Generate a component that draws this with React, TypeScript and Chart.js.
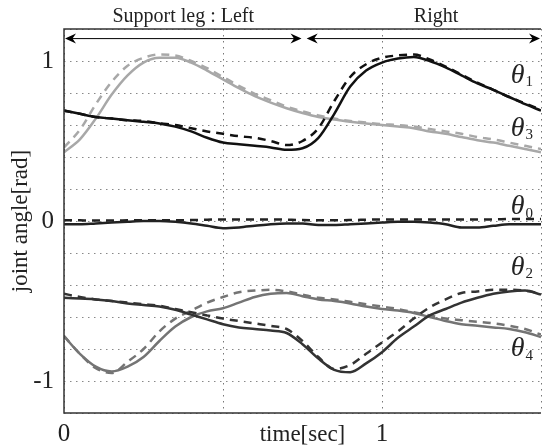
import React, { useEffect, useRef } from "react";
import { Chart, registerables } from "chart.js";

Chart.register(...registerables);

const TIME = [0, 0.05, 0.1, 0.15, 0.2, 0.25, 0.3, 0.35, 0.4, 0.45, 0.5, 0.55, 0.6, 0.65, 0.7, 0.75, 0.8, 0.85, 0.9, 0.95, 1.0, 1.05, 1.1, 1.15, 1.2, 1.25, 1.3, 1.35, 1.4, 1.45, 1.5];

const THETA1 = [0.69, 0.67, 0.65, 0.64, 0.63, 0.62, 0.61, 0.59, 0.56, 0.52, 0.49, 0.48, 0.47, 0.46, 0.445, 0.455, 0.52, 0.67, 0.84, 0.94, 0.99, 1.015, 1.025, 1.0, 0.96, 0.91, 0.86, 0.82, 0.775, 0.73, 0.69];
const THETA1_REF = [0.69, 0.67, 0.65, 0.64, 0.63, 0.625, 0.61, 0.6, 0.58, 0.56, 0.545, 0.53, 0.52, 0.5, 0.475, 0.5, 0.58, 0.75, 0.9, 0.98, 1.02, 1.035, 1.04, 1.01, 0.965, 0.915, 0.865, 0.82, 0.775, 0.735, 0.695];
const THETA3 = [0.43, 0.51, 0.64, 0.79, 0.91, 0.99, 1.02, 1.02, 0.99, 0.94, 0.885, 0.83, 0.78, 0.74, 0.705, 0.675, 0.65, 0.635, 0.62, 0.61, 0.6, 0.59, 0.58, 0.56, 0.545, 0.525, 0.505, 0.49, 0.47, 0.45, 0.43];
const THETA3_REF = [0.46, 0.57, 0.73, 0.87, 0.97, 1.02, 1.04, 1.035, 1.0, 0.955, 0.9, 0.845, 0.795, 0.755, 0.715, 0.685, 0.66, 0.64, 0.625, 0.615, 0.605, 0.6, 0.59, 0.575, 0.56, 0.545, 0.525, 0.51, 0.49, 0.47, 0.45];
const THETA0 = [-0.02, -0.02, -0.015, -0.01, -0.005, 0.0, 0.0, -0.005, -0.015, -0.03, -0.045, -0.04, -0.03, -0.02, -0.015, -0.015, -0.025, -0.025, -0.02, -0.015, -0.01, -0.005, -0.005, -0.01, -0.02, -0.04, -0.04, -0.03, -0.02, -0.02, -0.02];
const THETA0_REF = [0.005, 0.004, 0.003, 0.003, 0.004, 0.005, 0.005, 0.005, 0.006, 0.008, 0.01, 0.01, 0.01, 0.01, 0.008, 0.006, 0.005, 0.005, 0.006, 0.008, 0.01, 0.01, 0.01, 0.01, 0.01, 0.01, 0.01, 0.01, 0.012, 0.012, 0.012];
const THETA2 = [-0.48, -0.485, -0.49, -0.5, -0.515, -0.525, -0.535, -0.555, -0.585, -0.615, -0.645, -0.665, -0.675, -0.685, -0.7, -0.77, -0.86, -0.93, -0.945, -0.89, -0.82, -0.73, -0.66, -0.59, -0.55, -0.51, -0.48, -0.455, -0.44, -0.435, -0.46];
const THETA2_REF = [-0.455, -0.475, -0.49, -0.5, -0.51, -0.52, -0.53, -0.55, -0.57, -0.59, -0.61, -0.625, -0.64, -0.655, -0.675, -0.75, -0.85, -0.925, -0.9, -0.83, -0.76, -0.69, -0.61, -0.54, -0.49, -0.45, -0.44, -0.43, -0.43, -0.435, -0.455];
const THETA4 = [-0.72, -0.83, -0.91, -0.94, -0.91, -0.85, -0.75, -0.66, -0.6, -0.565, -0.545, -0.51, -0.475, -0.455, -0.45, -0.47, -0.49, -0.5, -0.515, -0.535, -0.55, -0.56, -0.575, -0.6, -0.625, -0.645, -0.655, -0.665, -0.675, -0.695, -0.725];
const THETA4_REF = [-0.72, -0.83, -0.92, -0.95, -0.88, -0.8, -0.69, -0.61, -0.56, -0.51, -0.475, -0.445, -0.435, -0.43, -0.44, -0.46, -0.48, -0.49, -0.505, -0.52, -0.535, -0.55, -0.57, -0.59, -0.61, -0.62, -0.63, -0.64, -0.655, -0.675, -0.71];

const Y_TICK_LABELS = ["-1", "0", "1"];
const X_TICK_LABELS = ["0", "1"];

const PHASE_LABELS = ["Support leg : Left", "Right"];
const PHASE_START = [0, 0.76];
const PHASE_END = [0.75, 1.5];
const PHASE_LABEL_X = [0.375, 1.17];

const THETA_SUBS = ["1", "3", "0", "2", "4"];
const THETA_LABEL_Y = [0.91, 0.58, 0.09, -0.29, -0.8];
const THETA_LABEL_X = 1.405;
const ARROW_Y = 1.14;

const SERIF = '"Liberation Serif", "DejaVu Serif", serif';

function pts(vals: number[]) {
  return vals.map((v, i) => ({ x: TIME[i], y: v }));
}

function arrowHead(ctx: CanvasRenderingContext2D, x: number, y: number, dir: number) {
  ctx.beginPath();
  ctx.moveTo(x, y);
  ctx.lineTo(x - dir * 11, y - 5);
  ctx.lineTo(x - dir * 7.5, y);
  ctx.lineTo(x - dir * 11, y + 5);
  ctx.closePath();
  ctx.fill();
}

const annotPlugin = {
  id: "annot",
  afterDraw(chart: any) {
    const { ctx, chartArea: a, scales } = chart;
    const xs = scales.x;
    const ys = scales.y;
    ctx.save();
    // borders
    ctx.strokeStyle = "#333";
    ctx.lineWidth = 1.5;
    ctx.setLineDash([]);
    ctx.beginPath();
    ctx.moveTo(a.right, a.top);
    ctx.lineTo(a.left, a.top);
    ctx.lineTo(a.left, a.bottom);
    ctx.lineTo(a.right, a.bottom);
    ctx.stroke();

    // phase arrows
    const ay = ys.getPixelForValue(ARROW_Y);
    ctx.strokeStyle = "#000";
    ctx.lineWidth = 1;
    for (let i = 0; i < PHASE_LABELS.length; i++) {
      const x0 = xs.getPixelForValue(PHASE_START[i]) + 1;
      const x1 = xs.getPixelForValue(PHASE_END[i]) - 1;
      ctx.fillStyle = "#000";
      ctx.beginPath();
      ctx.moveTo(x0 + 5, ay);
      ctx.lineTo(x1 - 5, ay);
      ctx.stroke();
      arrowHead(ctx, x0, ay, -1);
      arrowHead(ctx, x1, ay, 1);
      ctx.font = `20px ${SERIF}`;
      ctx.fillStyle = "#222";
      ctx.textAlign = "center";
      ctx.textBaseline = "alphabetic";
      ctx.fillText(PHASE_LABELS[i], xs.getPixelForValue(PHASE_LABEL_X[i]), a.top - 7);
    }

    // theta labels
    ctx.fillStyle = "#222";
    for (let i = 0; i < THETA_SUBS.length; i++) {
      const px = xs.getPixelForValue(THETA_LABEL_X);
      const py = ys.getPixelForValue(THETA_LABEL_Y[i]);
      ctx.textAlign = "left";
      ctx.textBaseline = "middle";
      ctx.font = `italic 28px ${SERIF}`;
      ctx.fillText("θ", px, py);
      const w = ctx.measureText("θ").width;
      ctx.font = `15px ${SERIF}`;
      ctx.fillText(THETA_SUBS[i], px + w + 1, py + 7);
    }

    // axis titles
    ctx.font = `23px ${SERIF}`;
    ctx.textAlign = "center";
    ctx.textBaseline = "middle";
    ctx.fillText("time[sec]", (a.left + a.right) / 2, a.bottom + 22);
    ctx.save();
    ctx.translate(21, (a.top + a.bottom) / 2);
    ctx.rotate(-Math.PI / 2);
    ctx.fillText("joint angle[rad]", 0, 0);
    ctx.restore();
    ctx.restore();
  },
};

export default function App() {
  const ref = useRef<HTMLCanvasElement>(null);
  useEffect(() => {
    document.body.style.margin = "0";
    const canvas = ref.current!;
    const solid = (label: string, data: number[], color: string) => ({
      label,
      data: pts(data),
      borderColor: color,
      borderWidth: 2.5,
      pointRadius: 0,
      fill: false,
      cubicInterpolationMode: "monotone" as const,
    });
    const dashed = (label: string, data: number[], color: string) => ({
      ...solid(label, data, color),
      borderDash: [8, 6],
    });
    const chart = new Chart(canvas, {
      type: "line",
      data: {
        datasets: [
          solid("θ1", THETA1, "#111"),
          dashed("θ1 ref", THETA1_REF, "#111"),
          solid("θ3", THETA3, "#a8a8a8"),
          dashed("θ3 ref", THETA3_REF, "#a8a8a8"),
          solid("θ0", THETA0, "#222"),
          dashed("θ0 ref", THETA0_REF, "#222"),
          solid("θ2", THETA2, "#333"),
          dashed("θ2 ref", THETA2_REF, "#333"),
          solid("θ4", THETA4, "#747474"),
          dashed("θ4 ref", THETA4_REF, "#747474"),
        ],
      },
      options: {
        responsive: false,
        animation: false,
        layout: { padding: { top: 29, right: 1, left: 0, bottom: 0 } },
        plugins: { legend: { display: false }, tooltip: { enabled: false }, title: { display: false } },
        scales: {
          x: {
            type: "linear",
            min: 0,
            max: 1.5,
            afterFit: (s: any) => {
              s.height = 35;
            },
            border: { display: false, dash: [1.5, 4.5] },
            grid: { color: "#777", lineWidth: 1, drawTicks: false },
            ticks: {
              stepSize: 0.5,
              padding: 6,
              color: "#222",
              font: { family: SERIF, size: 25 },
              maxRotation: 0,
              autoSkip: false,
              callback: (v: any) => {
                const s = String(Math.round(Number(v) * 100) / 100);
                return X_TICK_LABELS.includes(s) ? s : "";
              },
            },
          } as any,
          y: {
            type: "linear",
            min: -1.2,
            max: 1.2,
            afterFit: (s: any) => {
              s.width = 64;
            },
            border: { display: false, dash: [1.5, 4.5] },
            grid: { color: "#888", lineWidth: 1, drawTicks: false },
            ticks: {
              stepSize: 0.2,
              padding: 10,
              color: "#222",
              font: { family: SERIF, size: 25 },
              autoSkip: false,
              callback: (v: any) => {
                const n = Number(v);
                if (Math.abs(n - Math.round(n)) > 1e-6) return "";
                const s = String(Math.round(n));
                return Y_TICK_LABELS.includes(s) ? s : "";
              },
            },
          } as any,
        },
      },
      plugins: [annotPlugin],
    });
    return () => chart.destroy();
  }, []);
  return <canvas ref={ref} width={547} height={448} style={{ display: "block" }} />;
}
